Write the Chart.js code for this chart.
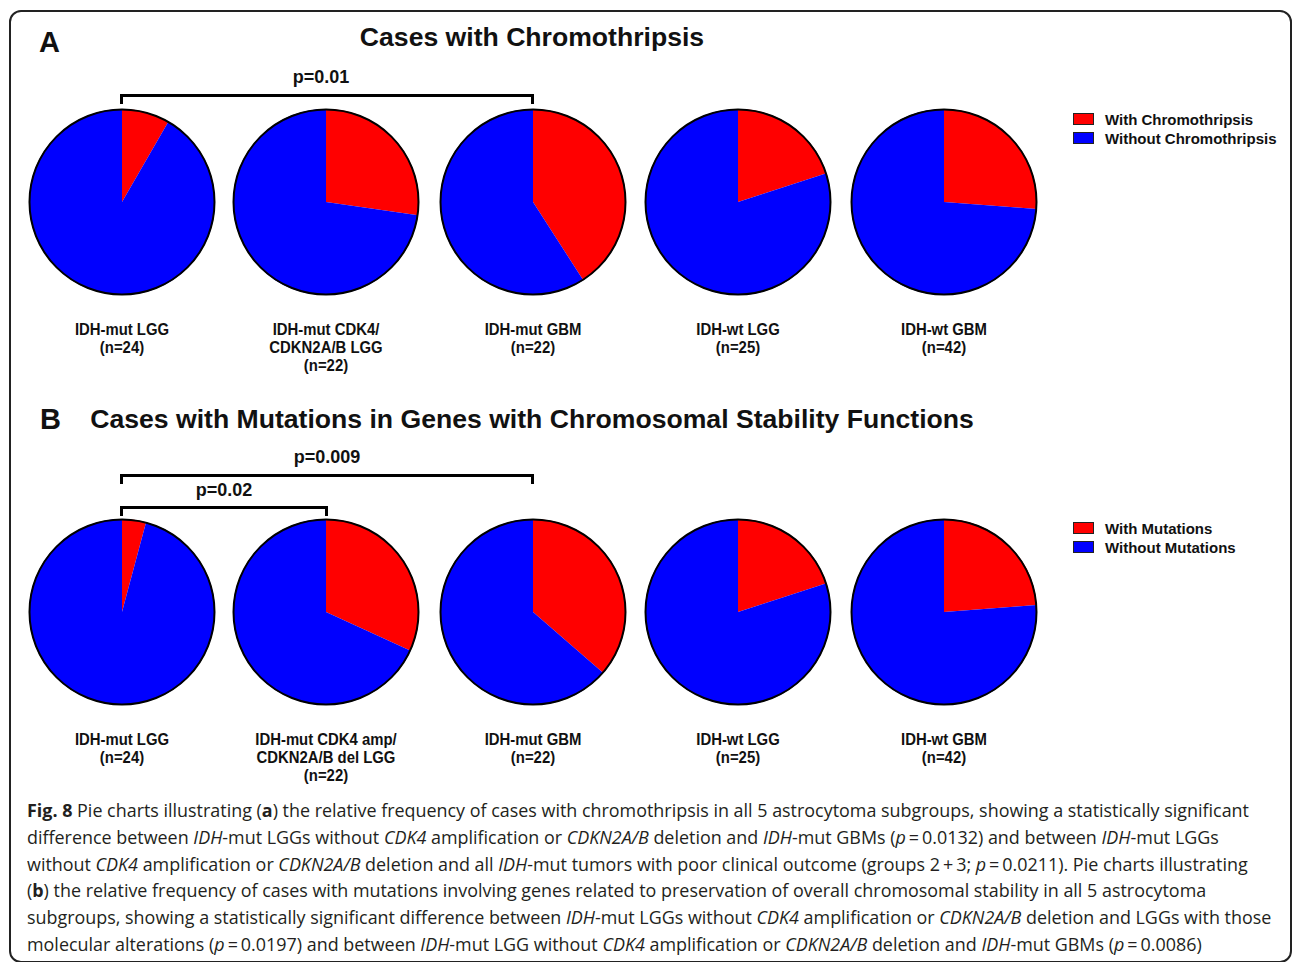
<!DOCTYPE html>
<html>
<head>
<meta charset="utf-8">
<script src="https://cdn.jsdelivr.net/npm/chart.js@4.4.0/dist/chart.umd.min.js"></script>
<style>
  body { margin: 0; background: #fff; width: 1292px; height: 962px; position: relative; overflow: hidden;
         font-family: 'Liberation Sans', Arial, sans-serif; color: #111; }
  .frame { position: absolute; left: 9px; top: 10px; width: 1283px; height: 953px; box-sizing: border-box;
           border: 2px solid #222; border-radius: 12px; }
  .panel-letter { position: absolute; font-weight: bold; font-size: 29px; line-height: 29px; }
  .title { position: absolute; font-weight: bold; font-size: 26.6px; line-height: 1; white-space: nowrap; transform: translateX(-50%); }
  .pval { position: absolute; font-weight: bold; font-size: 18px; line-height: 18px; transform: translateX(-50%); }
  .bracket { position: absolute; height: 7px; border: 3px solid #000; border-bottom: none; box-sizing: content-box; }
  .pie { position: absolute; width: 190px; height: 190px; }
  .lbl { position: absolute; width: 240px; text-align: center; font-weight: bold; font-size: 16px; line-height: 18px;
         transform: scaleX(0.93); transform-origin: 50% 0; }
  .legend { position: absolute; font-weight: bold; font-size: 15px; line-height: 19px; }
  .legend div { position: relative; padding-left: 32px; white-space: nowrap; }
  .legend span { position: absolute; left: 0; top: 3px; width: 21px; height: 12px; box-sizing: border-box; border: 1.5px solid #222; }
  .caption { position: absolute; left: 27px; top: 797px; font-family: 'Open Sans', sans-serif; font-size: 18px;
             line-height: 26.8px; color: #231f20; white-space: nowrap; transform-origin: 0 0; }
</style>
</head>
<body>
<div class="frame"></div>

<div class="panel-letter" style="left:39px; top:28px;">A</div>
<div class="title" style="left:532px; top:24px;">Cases with Chromothripsis</div>
<div class="pval" style="left:321px; top:68px;">p=0.01</div>
<div class="bracket" style="left:120px; top:94px; width:408px;"></div>

<div class="panel-letter" style="left:40px; top:405px;">B</div>
<div class="title" style="left:532px; top:406px;">Cases with Mutations in Genes with Chromosomal Stability Functions</div>
<div class="pval" style="left:327px; top:448px;">p=0.009</div>
<div class="bracket" style="left:120px; top:474px; width:408px;"></div>
<div class="pval" style="left:224px; top:481px;">p=0.02</div>
<div class="bracket" style="left:120px; top:506px; width:202px;"></div>

<div id="pies"></div>

<div class="legend" style="left:1073px; top:110px;">
  <div><span style="background:#ff0000"></span>With Chromothripsis</div>
  <div><span style="background:#0000ff"></span>Without Chromothripsis</div>
</div>
<div class="legend" style="left:1073px; top:519px;">
  <div><span style="background:#ff0000"></span>With Mutations</div>
  <div><span style="background:#0000ff"></span>Without Mutations</div>
</div>

<div class="caption" id="caption">
  <div id="cap1"><b>Fig. 8</b> Pie charts illustrating (<b>a</b>) the relative frequency of cases with chromothripsis in all 5 astrocytoma subgroups, showing a statistically significant</div>
  <div>difference between <i>IDH</i>-mut LGGs without <i>CDK4</i> amplification or <i>CDKN2A/B</i> deletion and <i>IDH</i>-mut GBMs (<i>p</i>&thinsp;=&thinsp;0.0132) and between <i>IDH</i>-mut LGGs</div>
  <div>without <i>CDK4</i> amplification or <i>CDKN2A/B</i> deletion and all <i>IDH</i>-mut tumors with poor clinical outcome (groups 2&thinsp;+&thinsp;3; <i>p</i>&thinsp;=&thinsp;0.0211). Pie charts illustrating</div>
  <div>(<b>b</b>) the relative frequency of cases with mutations involving genes related to preservation of overall chromosomal stability in all 5 astrocytoma</div>
  <div>subgroups, showing a statistically significant difference between <i>IDH</i>-mut LGGs without <i>CDK4</i> amplification or <i>CDKN2A/B</i> deletion and LGGs with those</div>
  <div>molecular alterations (<i>p</i>&thinsp;=&thinsp;0.0197) and between <i>IDH</i>-mut LGG without <i>CDK4</i> amplification or <i>CDKN2A/B</i> deletion and <i>IDH</i>-mut GBMs (<i>p</i>&thinsp;=&thinsp;0.0086)</div>
</div>

<script>
// Case counts per astrocytoma subgroup
const groupSizes = [24, 22, 22, 25, 42];
const groupNamesA = [['IDH-mut LGG'], ['IDH-mut CDK4/', 'CDKN2A/B LGG'], ['IDH-mut GBM'], ['IDH-wt LGG'], ['IDH-wt GBM']];
const groupNamesB = [['IDH-mut LGG'], ['IDH-mut CDK4 amp/', 'CDKN2A/B del LGG'], ['IDH-mut GBM'], ['IDH-wt LGG'], ['IDH-wt GBM']];

const withChromothripsis = [2, 6, 9, 5, 11];
const withoutChromothripsis = [22, 16, 13, 20, 31];
const withMutations = [1, 7, 8, 5, 10];
const withoutMutations = [23, 15, 14, 20, 32];

const sliceColors = ['#ff0000', '#0000ff'];

// layout of the pie rows
var pieX = [122, 326, 533, 738, 944];
var rowA = { y: 202, labelTop: 321 };
var rowB = { y: 612, labelTop: 731 };

// black rim around each pie (no lines between slices)
var rimPlugin = {
    id: 'rim',
    afterDatasetsDraw: function(chart) {
        var arc = chart.getDatasetMeta(0).data[0];
        if (!arc) return;
        var ctx = chart.ctx;
        ctx.save();
        ctx.beginPath();
        ctx.arc(arc.x, arc.y, arc.outerRadius - 0.5, 0, Math.PI * 2);
        ctx.lineWidth = 2;
        ctx.strokeStyle = '#000';
        ctx.stroke();
        ctx.restore();
    }
};

function addPie(x, y, withVals, withoutVals, labels) {
    var box = document.createElement('div');
    box.className = 'pie';
    box.style.left = (x - 95) + 'px';
    box.style.top = (y - 95) + 'px';
    var canvas = document.createElement('canvas');
    box.appendChild(canvas);
    document.getElementById('pies').appendChild(box);

    new Chart(canvas, {
        type: 'pie',
        data: {
            labels: labels,
            datasets: [{
                data: [withVals, withoutVals],
                backgroundColor: sliceColors,
                borderWidth: 0
            }]
        },
        options: {
            responsive: true,
            maintainAspectRatio: false,
            animation: false,
            layout: { padding: 2 },
            plugins: { legend: { display: false }, tooltip: { enabled: false } }
        },
        plugins: [rimPlugin]
    });
}

function addLabel(x, top, lines) {
    var el = document.createElement('div');
    el.className = 'lbl';
    el.style.left = (x - 120) + 'px';
    el.style.top = top + 'px';
    el.innerHTML = lines.join('<br>');
    document.body.appendChild(el);
}

for (var i = 0; i < groupSizes.length; i++) {
    var n = '(n=' + groupSizes[i] + ')';
    addPie(pieX[i], rowA.y, withChromothripsis[i], withoutChromothripsis[i], ['With Chromothripsis', 'Without Chromothripsis']);
    addLabel(pieX[i], rowA.labelTop, groupNamesA[i].concat([n]));
    addPie(pieX[i], rowB.y, withMutations[i], withoutMutations[i], ['With Mutations', 'Without Mutations']);
    addLabel(pieX[i], rowB.labelTop, groupNamesB[i].concat([n]));
}

// squeeze the caption so the first line runs to the right margin
function fitCaption() {
    var first = document.getElementById('cap1');
    var range = document.createRange();
    range.selectNodeContents(first);
    var w = range.getBoundingClientRect().width;
    if (w > 0) {
        document.getElementById('caption').style.transform = 'scaleX(' + (1222 / w) + ')';
    }
}
if (document.fonts && document.fonts.ready) {
    document.fonts.ready.then(fitCaption);
} else {
    fitCaption();
}
</script>
</body>
</html>
